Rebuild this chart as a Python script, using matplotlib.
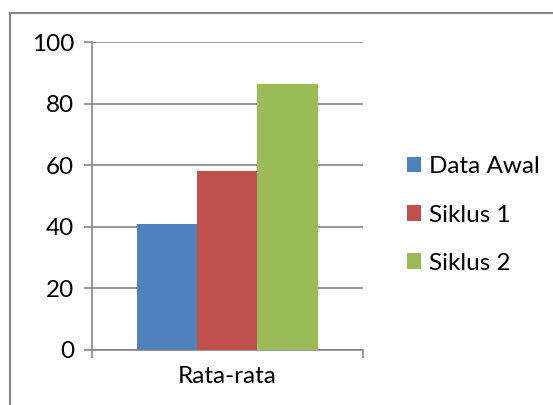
import matplotlib.pyplot as plt
from matplotlib.lines import Line2D

# data
categories = ["Rata-rata"]
series = ["Data Awal", "Siklus 1", "Siklus 2"]
values = [41, 58, 86.5]
colors = ["#4F81BD", "#C0504D", "#9BBB59"]

plt.rcParams['font.family'] = ['Lato', 'DejaVu Sans']
grey = "#868686"

fig = plt.figure(figsize=(5.53, 4.05), dpi=100)
ax = fig.add_axes([91.7 / 553, 1 - 349.7 / 405, 271 / 553, 307.4 / 405])

w = 2 / 9
for i, (name, v, c) in enumerate(zip(series, values, colors)):
    ax.bar(0 + (i - 1) * w, v, width=w, color=c, label=name, zorder=3)

ax.set_xlim(-0.5, 0.5)
ax.set_ylim(0, 100)
ax.set_yticks(range(0, 101, 20))
ax.yaxis.grid(True, color=grey, linewidth=1.2, zorder=0)
ax.set_xticks([0])
ax.set_xticklabels(categories)
ax.set_xticks([-0.5, 0.5], minor=True)
ax.tick_params(axis='x', which='major', length=0, pad=12, labelsize=17.5)
ax.tick_params(axis='x', which='minor', length=5.5, color=grey, width=1.2)
ax.tick_params(axis='y', length=5.5, color=grey, width=1.2, labelsize=17.5, pad=7)

for s in ["top", "right"]:
    ax.spines[s].set_visible(False)
for s in ["left", "bottom"]:
    ax.spines[s].set_color(grey)
    ax.spines[s].set_linewidth(1.2)

fig.legend(loc="center left", bbox_to_anchor=(385 / 553, 1 - 215 / 405),
           frameon=False, fontsize=17.5, labelspacing=1.12,
           handlelength=0.6, handleheight=0.6, handletextpad=0.3)

# chart border (top and left visible)
fig.add_artist(Line2D([9.5 / 553, 1], [1 - 12.7 / 405, 1 - 12.7 / 405],
                      color=grey, linewidth=1.5, transform=fig.transFigure))
fig.add_artist(Line2D([9.5 / 553, 9.5 / 553], [0, 1 - 12.7 / 405],
                      color=grey, linewidth=1.5, transform=fig.transFigure))

plt.savefig("out.png", dpi=100)
